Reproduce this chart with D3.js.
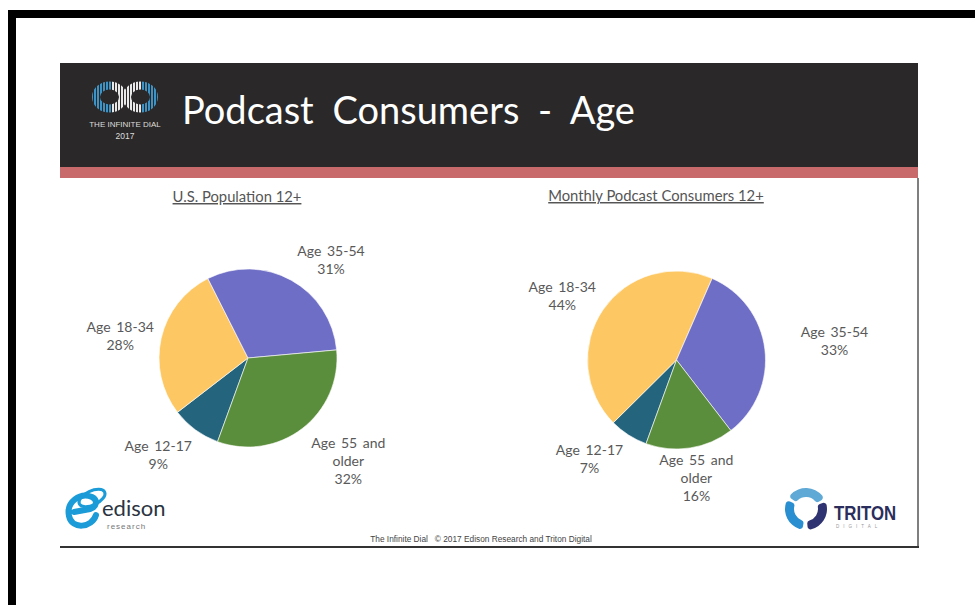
<!DOCTYPE html>
<html>
<head>
<meta charset="utf-8">
<script src="https://cdn.jsdelivr.net/npm/d3@7"></script>
<style>
  body { margin: 0; background: #fff; }
  svg { display: block; }
</style>
</head>
<body>
<svg id="chart" width="975" height="605"></svg>
<script>
// chart data
const ageGroups = ["Age 12-17", "Age 18-34", "Age 35-54", "Age 55 and older"];
const ageLabelLines = [["Age 12-17"], ["Age 18-34"], ["Age 35-54"], ["Age 55 and", "older"]];
const usPopulation = [9, 28, 31, 32];
const podcastConsumers = [7, 44, 33, 16];
const pieTitles = ["U.S. Population 12+", "Monthly Podcast Consumers 12+"];

// styles
const sliceColors = ["#24657d", "#fdc864", "#6f6ec6", "#5b8e3c"];
const labelFont = "Lato, 'Open Sans', sans-serif";

const svg = d3.select("#chart");

// outer black frame
svg.append("rect").attr("x", 8).attr("y", 10).attr("width", 967).attr("height", 8).attr("fill", "#000");
svg.append("rect").attr("x", 8).attr("y", 10).attr("width", 8).attr("height", 595).attr("fill", "#000");

// slide header
svg.append("rect").attr("x", 60).attr("y", 63).attr("width", 858).attr("height", 104).attr("fill", "#2a2828");
svg.append("rect").attr("x", 60).attr("y", 167).attr("width", 858).attr("height", 11).attr("fill", "#c8696c");
svg.append("line").attr("x1", 918).attr("x2", 918).attr("y1", 178).attr("y2", 547)
    .attr("stroke", "#555").attr("stroke-width", 1.5);
svg.append("line").attr("x1", 60).attr("x2", 919).attr("y1", 547).attr("y2", 547)
    .attr("stroke", "#333").attr("stroke-width", 2);

svg.append("text")
    .attr("x", 182).attr("y", 124)
    .attr("fill", "#fff")
    .style("font-family", labelFont)
    .style("font-size", "38px")
    .style("word-spacing", "9px")
    .text("Podcast Consumers - Age");

// infinite dial logo: striped infinity sign
let defs = svg.append("defs");
let mask = defs.append("mask").attr("id", "infMask");
[[109.5, 97], [140.5, 97]].forEach(function (c) {
    mask.append("ellipse").attr("cx", c[0]).attr("cy", c[1]).attr("rx", 13.5).attr("ry", 11.5)
        .attr("fill", "none").attr("stroke", "#fff").attr("stroke-width", 8);
});
let stripes = svg.append("g").attr("mask", "url(#infMask)");
for (let x = 91; x < 161; x += 3) {
    let blue = (x < 110) || (x > 141);
    stripes.append("rect").attr("x", x).attr("y", 78).attr("width", 2).attr("height", 38)
        .attr("fill", blue ? "#3d93c6" : "#e8e8e8");
}
svg.append("text").attr("x", 125).attr("y", 127).attr("text-anchor", "middle")
    .attr("fill", "#ddd").style("font-family", "'Liberation Sans', sans-serif")
    .style("font-size", "8px").text("THE INFINITE DIAL");
svg.append("text").attr("x", 125).attr("y", 139).attr("text-anchor", "middle")
    .attr("fill", "#ddd").style("font-family", "'Liberation Sans', sans-serif")
    .style("font-size", "8.5px").text("2017");

// pies
const radius = 89;
const startA = 200 * Math.PI / 180;
const pie = d3.pie().sort(null).startAngle(startA).endAngle(startA + 2 * Math.PI);
const arc = d3.arc().innerRadius(0).outerRadius(radius);
const labelArc = d3.arc().innerRadius(130).outerRadius(130);

const pies = [
    {values: usPopulation, cx: 248, cy: 358, titleX: 237, titleY: 202,
     nudge: [[-13, -8], [-1, 7], [20, 16], [21, 0]]},
    {values: podcastConsumers, cx: 676.5, cy: 360, titleX: 656, titleY: 201,
     nudge: [[-17, -11], [-7, 9], [29, -3], [0, -10]]}
];

pies.forEach(function (p, pi) {
    svg.append("text")
        .attr("x", p.titleX).attr("y", p.titleY)
        .attr("text-anchor", "middle")
        .attr("fill", "#555")
        .style("font-family", labelFont)
        .style("font-size", "14.8px")
        .style("text-decoration", "underline")
        .text(pieTitles[pi]);

    let g = svg.append("g").attr("transform", "translate(" + p.cx + "," + p.cy + ")");
    let arcs = pie(p.values);

    g.selectAll("path")
        .data(arcs)
        .enter().append("path")
        .attr("d", arc)
        .attr("fill", function (d, i) { return sliceColors[i]; })
        .attr("stroke", "#fff")
        .attr("stroke-width", 0.6);

    g.selectAll("text.lbl")
        .data(arcs)
        .enter().append("text")
        .attr("class", "lbl")
        .attr("text-anchor", "middle")
        .attr("fill", "#595959")
        .style("font-family", labelFont)
        .style("font-size", "14px")
        .style("word-spacing", "2px")
        .each(function (d, i) {
            let c = labelArc.centroid(d);
            let x = c[0] + p.nudge[i][0];
            let lines = ageLabelLines[i].concat([d.data + "%"]);
            let y0 = c[1] + p.nudge[i][1] - (lines.length - 1) * 18 / 2 + 5;
            let t = d3.select(this);
            lines.forEach(function (line, li) {
                t.append("tspan").attr("x", x).attr("y", y0 + li * 18).text(line);
            });
        });
});

// edison research logo
let ed = svg.append("g");
ed.append("path")
    .attr("d", "M 96 515 C 92 528, 72 530, 69 516 C 66 502, 80 492, 92 497 C 98 500, 97 507, 90 509 L 74 512")
    .attr("fill", "none").attr("stroke", "#1b9bd7").attr("stroke-width", 6).attr("stroke-linecap", "round");
ed.append("ellipse").attr("cx", 92).attr("cy", 498).attr("rx", 14).attr("ry", 7)
    .attr("transform", "rotate(-25 92 498)")
    .attr("fill", "none").attr("stroke", "#1b9bd7").attr("stroke-width", 3);
ed.append("text").attr("x", 102).attr("y", 516)
    .attr("fill", "#2a3442").style("font-family", labelFont).style("font-size", "22px").text("edison");
ed.append("text").attr("x", 107).attr("y", 529)
    .attr("fill", "#777").style("font-family", "'Liberation Sans', sans-serif")
    .style("font-size", "8px").style("letter-spacing", "1px").text("research");

// triton digital logo
let tr = svg.append("g").attr("transform", "translate(806,509)");
let blade = d3.arc().innerRadius(12).outerRadius(21).cornerRadius(3);
let bladeColors = ["#5fa9d6", "#2f3371", "#2a8fd0"];
[[-55, 60], [70, 175], [190, 295]].forEach(function (a, i) {
    tr.append("path")
        .attr("d", blade({startAngle: a[0] * Math.PI / 180, endAngle: a[1] * Math.PI / 180}))
        .attr("fill", bladeColors[i]);
});
svg.append("text").attr("transform", "translate(834,520) scale(0.8,1)")
    .attr("fill", "#2b2e5c").style("font-family", "'Liberation Sans', sans-serif")
    .style("font-weight", "bold").style("font-size", "21px").text("TRITON");
svg.append("text").attr("x", 836).attr("y", 528)
    .attr("fill", "#999").style("font-family", "'Liberation Sans', sans-serif")
    .style("font-size", "4.5px").style("letter-spacing", "4px").text("DIGITAL");

// footer
svg.append("text").attr("x", 481).attr("y", 542).attr("text-anchor", "middle")
    .attr("fill", "#444").style("font-family", "'Liberation Sans', Arial, sans-serif")
    .style("font-size", "8.3px").style("white-space", "pre")
    .text("The Infinite Dial   \u00a9 2017 Edison Research and Triton Digital");
</script>
</body>
</html>
